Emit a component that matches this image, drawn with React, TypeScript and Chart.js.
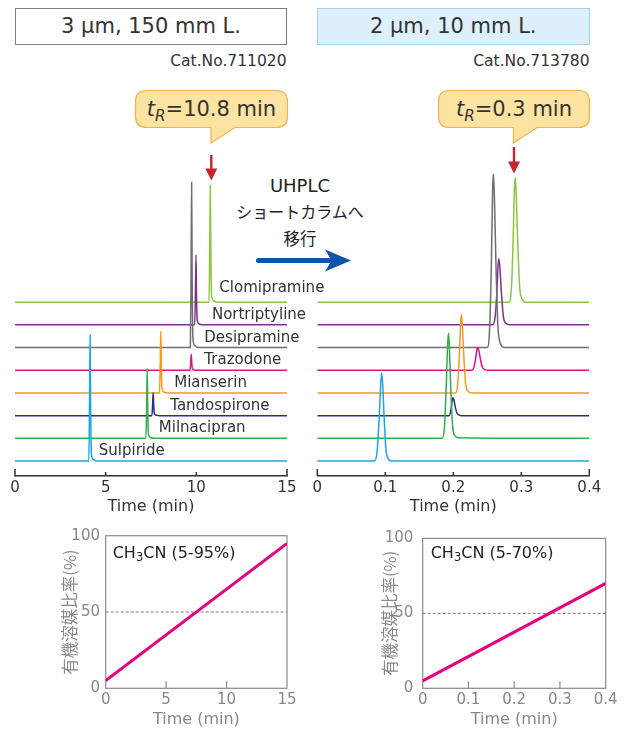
import React, { useEffect, useRef } from 'react';
import { Chart, registerables } from 'chart.js';

Chart.register(...registerables);

const LATIN = '"DejaVu Sans", "Noto Sans CJK JP", sans-serif';
const CJK = '"Noto Sans CJK JP", "DejaVu Sans", sans-serif';

// ---------------- data ----------------
// compounds, stacked from the bottom trace upwards
const compounds = [
  'Sulpiride',
  'Milnacipran',
  'Tandospirone',
  'Mianserin',
  'Trazodone',
  'Desipramine',
  'Nortriptyline',
  'Clomipramine',
];

const traceColors = [
  '#1ba6ea',
  '#2fb04a',
  '#2a2d8c',
  '#f7981f',
  '#ea0a8c',
  '#6e6e6e',
  '#7f318f',
  '#8cc63f',
];

// 3 um, 150 mm column: [time (min), signal]
const longColumnTraces: number[][][] = [
  [[0, 0], [4.07, 0], [4.11, 2.6], [4.14, 5.55], [4.17, 2.4], [4.21, 0.35], [4.3, 0.08], [4.5, 0], [15, 0]],
  [[0, 0], [7.22, 0], [7.26, 1.45], [7.29, 3.08], [7.32, 1.3], [7.36, 0.2], [7.45, 0.05], [7.65, 0], [15, 0]],
  [[0, 0], [7.55, 0], [7.59, 0.48], [7.62, 1.01], [7.65, 0.45], [7.69, 0.08], [7.8, 0.02], [7.95, 0], [15, 0]],
  [[0, 0], [7.97, 0], [8.01, 1.3], [8.04, 2.73], [8.07, 1.2], [8.11, 0.18], [8.2, 0.04], [8.4, 0], [15, 0]],
  [[0, 0], [9.65, 0], [9.69, 0.33], [9.72, 0.7], [9.75, 0.3], [9.79, 0.06], [9.9, 0.01], [10.05, 0], [15, 0]],
  [[0, 0], [9.67, 0], [9.71, 3.4], [9.74, 7.28], [9.77, 3.1], [9.81, 0.45], [9.9, 0.1], [10.1, 0], [15, 0]],
  [[0, 0], [9.91, 0], [9.95, 1.45], [9.98, 3.08], [10.01, 1.3], [10.05, 0.2], [10.14, 0.05], [10.35, 0], [15, 0]],
  [[0, 0], [10.7, 0], [10.74, 2.4], [10.77, 5.15], [10.8, 2.2], [10.84, 0.32], [10.93, 0.08], [11.15, 0], [15, 0]],
];

// 2 um, 10 mm column: [time (min), signal]
const shortColumnTraces: number[][][] = [
  [[0, 0], [0.084, 0], [0.088, 0.45], [0.091, 1.9], [0.0935, 3.5], [0.0947, 3.88], [0.096, 3.45], [0.0985, 1.8], [0.101, 0.5], [0.104, 0.12], [0.109, 0], [0.4, 0]],
  [[0, 0], [0.184, 0], [0.187, 0.5], [0.1895, 2.2], [0.1918, 4.2], [0.193, 4.63], [0.1942, 4.1], [0.1965, 2.0], [0.199, 0.55], [0.202, 0.12], [0.208, 0.03], [0.4, 0]],
  [[0, 0], [0.194, 0], [0.1965, 0.25], [0.1985, 0.7], [0.1996, 0.79], [0.201, 0.68], [0.2035, 0.3], [0.206, 0.08], [0.212, 0], [0.4, 0]],
  [[0, 0], [0.2035, 0], [0.2065, 0.4], [0.209, 1.7], [0.2108, 3.1], [0.212, 3.44], [0.2132, 3.05], [0.2155, 1.6], [0.218, 0.45], [0.221, 0.1], [0.227, 0], [0.4, 0]],
  [[0, 0], [0.227, 0], [0.2305, 0.15], [0.233, 0.55], [0.2348, 0.92], [0.236, 1.01], [0.2373, 0.9], [0.2398, 0.5], [0.2425, 0.15], [0.246, 0.03], [0.252, 0], [0.4, 0]],
  [[0, 0], [0.25, 0], [0.2535, 0.9], [0.256, 3.7], [0.2578, 6.9], [0.259, 7.65], [0.2603, 6.8], [0.2628, 3.6], [0.2655, 1.0], [0.269, 0.2], [0.275, 0], [0.4, 0]],
  [[0, 0], [0.258, 0], [0.2615, 0.35], [0.264, 1.4], [0.2658, 2.6], [0.267, 2.91], [0.2683, 2.6], [0.2708, 1.4], [0.2735, 0.4], [0.277, 0.08], [0.283, 0], [0.4, 0]],
  [[0, 0], [0.282, 0], [0.2855, 0.65], [0.288, 2.7], [0.2898, 4.95], [0.291, 5.49], [0.2923, 4.9], [0.2948, 2.6], [0.2975, 0.7], [0.301, 0.14], [0.307, 0], [0.4, 0]],
];

// label anchors on the long-column panel (time, lift above baseline)
const labelAnchorTime = [4.62, 7.93, 8.56, 8.78, 10.44, 10.44, 10.86, 11.27];
const labelLift = [0.42, 0.44, 0.44, 0.44, 0.44, 0.43, 0.44, 0.6];

const longTickValues = [0, 5, 10, 15];
const shortTickValues = [0, 0.1, 0.2, 0.3, 0.4];
const pctTickValues = [0, 50, 100];

const gradientLongTime = [0, 15];
const gradientLongPct = [5, 95];
const gradientShortTime = [0, 0.4];
const gradientShortPct = [5, 70];
const gradientRefPct = 50;

// ---------------- plugins ----------------
const innerTicks = {
  id: 'innerTicks',
  afterDatasetsDraw(chart: any, _a: any, opts: any) {
    const { ctx, chartArea } = chart;
    const xs = chart.scales.x;
    const n = xs.ticks.length;
    ctx.save();
    ctx.strokeStyle = opts.color;
    ctx.lineWidth = opts.width;
    xs.ticks.forEach((t: any, i: number) => {
      const len = i === 0 || i === n - 1 ? opts.endLen : opts.midLen;
      if (!len) return;
      const px = xs.getPixelForValue(t.value);
      ctx.beginPath();
      ctx.moveTo(px, chartArea.bottom);
      ctx.lineTo(px, chartArea.bottom - len);
      ctx.stroke();
    });
    ctx.restore();
  },
};

const traceLabels = {
  id: 'traceLabels',
  afterDatasetsDraw(chart: any) {
    const { ctx } = chart;
    const xs = chart.scales.x;
    const ys = chart.scales.y;
    ctx.save();
    ctx.font = `15px ${LATIN}`;
    ctx.fillStyle = '#333';
    ctx.textAlign = 'left';
    ctx.textBaseline = 'middle';
    compounds.forEach((name, i) => {
      ctx.fillText(name, xs.getPixelForValue(labelAnchorTime[i]), ys.getPixelForValue(i + labelLift[i]));
    });
    ctx.restore();
  },
};

const frame = {
  id: 'frame',
  beforeDatasetsDraw(chart: any) {
    const { ctx, chartArea: a } = chart;
    const ys = chart.scales.y;
    ctx.save();
    ctx.strokeStyle = '#8a8a8a';
    ctx.lineWidth = 1.2;
    ctx.strokeRect(a.left, a.top, a.right - a.left, a.bottom - a.top);
    const y = ys.getPixelForValue(gradientRefPct);
    ctx.setLineDash([3, 2]);
    ctx.lineWidth = 1;
    ctx.strokeStyle = '#777';
    ctx.beginPath();
    ctx.moveTo(a.left, y);
    ctx.lineTo(a.right, y);
    ctx.stroke();
    ctx.restore();
  },
};

// ---------------- configs ----------------
function chromConfig(traces: number[][][], xMax: number, tickValues: number[], padding: any, withLabels: boolean) {
  return {
    type: 'line',
    data: {
      datasets: traces.map((tr, i) => ({
        label: compounds[i],
        data: tr.map(([t, v]) => ({ x: t, y: i + v })),
        borderColor: traceColors[i],
        borderWidth: 1.5,
        pointRadius: 0,
        fill: false,
        cubicInterpolationMode: 'monotone',
      })),
    },
    options: {
      animation: false,
      responsive: false,
      layout: { padding },
      plugins: {
        legend: { display: false },
        tooltip: { enabled: false },
        innerTicks: { color: '#333', width: 1.5, endLen: 7, midLen: 4 },
      },
      scales: {
        x: {
          type: 'linear',
          min: 0,
          max: xMax,
          afterBuildTicks: (s: any) => {
            s.ticks = tickValues.map((v) => ({ value: v }));
          },
          ticks: { color: '#333', font: { family: LATIN, size: 15 }, padding: 3, maxRotation: 0, autoSkip: false },
          grid: { display: false, drawTicks: false, tickLength: 0 },
          border: { display: true, color: '#333', width: 1.5 },
          title: {
            display: true,
            text: 'Time (min)',
            color: '#333',
            font: { family: LATIN, size: 16 },
            padding: { top: 0, bottom: 8.4 },
          },
          afterFit: (s: any) => {
            s.height = 49;
          },
        },
        y: { type: 'linear', display: false, min: -0.66, max: 13 },
      },
    },
    plugins: withLabels ? [innerTicks, traceLabels] : [innerTicks],
  };
}

function gradientConfig(times: number[], pcts: number[], xMax: number, tickValues: number[], yWidth: number, tickPad: number, titlePad: number, padRight: number) {
  return {
    type: 'line',
    data: {
      datasets: [
        {
          label: 'CH3CN',
          data: times.map((t, i) => ({ x: t, y: pcts[i] })),
          borderColor: '#e4007f',
          borderWidth: 3,
          pointRadius: 0,
          fill: false,
        },
      ],
    },
    options: {
      animation: false,
      responsive: false,
      layout: { padding: { left: 0, right: padRight, top: 15.7, bottom: 0 } },
      plugins: {
        legend: { display: false },
        tooltip: { enabled: false },
        innerTicks: { color: '#8a8a8a', width: 1.2, endLen: 0, midLen: 7 },
      },
      scales: {
        x: {
          type: 'linear',
          min: 0,
          max: xMax,
          afterBuildTicks: (s: any) => {
            s.ticks = tickValues.map((v) => ({ value: v }));
          },
          ticks: { color: '#888', font: { family: LATIN, size: 15 }, padding: 3, maxRotation: 0, autoSkip: false },
          grid: { display: false, drawTicks: false, tickLength: 0 },
          border: { display: false },
          title: {
            display: true,
            text: 'Time (min)',
            color: '#888',
            font: { family: LATIN, size: 16 },
            padding: { top: 0, bottom: 0 },
          },
          afterFit: (s: any) => {
            s.height = 40.7;
          },
        },
        y: {
          type: 'linear',
          min: 0,
          max: 100,
          afterBuildTicks: (s: any) => {
            s.ticks = pctTickValues.map((v) => ({ value: v }));
          },
          ticks: { color: '#888', font: { family: LATIN, size: 15 }, padding: tickPad },
          grid: { display: false, drawTicks: false, tickLength: 0 },
          border: { display: false },
          title: {
            display: true,
            text: '有機溶媒比率(%)',
            color: '#888',
            font: { family: CJK, size: 16.5 },
            padding: { top: titlePad, bottom: 0 },
          },
          afterFit: (s: any) => {
            s.width = yWidth;
          },
        },
      },
    },
    plugins: [frame, innerTicks],
  };
}

// ---------------- components ----------------
function ChartBox({ left, top, width, height, build }: any) {
  const ref = useRef<HTMLCanvasElement | null>(null);
  useEffect(() => {
    const chart = new Chart(ref.current as HTMLCanvasElement, build());
    return () => chart.destroy();
  }, []);
  return (
    <canvas
      ref={ref}
      width={width}
      height={height}
      style={{ position: 'absolute', left, top, width, height }}
    />
  );
}

const abs = (s: any) => ({ position: 'absolute', whiteSpace: 'nowrap', ...s });

function Callout({ x0, x1, children }: any) {
  return (
    <div
      style={abs({
        left: x0,
        top: 90.5,
        width: x1 - x0,
        height: 37,
        display: 'flex',
        alignItems: 'center',
        justifyContent: 'center',
        fontFamily: LATIN,
        fontSize: 21,
        color: '#333',
      })}
    >
      {children}
    </div>
  );
}

function calloutPath(x0: number, x1: number, tailTip: number, tailRight: number) {
  const y0 = 90.5;
  const y1 = 127.5;
  const r = 11;
  return `M ${x0 + r} ${y0} H ${x1 - r} Q ${x1} ${y0} ${x1} ${y0 + r} V ${y1 - r} Q ${x1} ${y1} ${x1 - r} ${y1} H ${tailRight} L ${tailTip} 143 V ${y1} H ${x0 + r} Q ${x0} ${y1} ${x0} ${y1 - r} V ${y0 + r} Q ${x0} ${y0} ${x0 + r} ${y0} Z`;
}

const tR = (v: string) => (
  <span>
    <i>t</i>
    <i style={{ fontSize: '0.72em', position: 'relative', top: '0.32em' }}>R</i>
    {`=${v} min`}
  </span>
);

export default function App() {
  return (
    <div
      style={{
        position: 'absolute',
        left: 0,
        top: 0,
        width: 627,
        height: 729,
        background: '#fff',
        overflow: 'hidden',
        fontFamily: LATIN,
      }}
    >
      {/* header boxes */}
      <div
        style={abs({
          left: 15,
          top: 7.5,
          width: 272,
          height: 37.5,
          boxSizing: 'border-box',
          border: '1px solid #808080',
          display: 'flex',
          alignItems: 'center',
          justifyContent: 'center',
          fontSize: 21,
          color: '#333',
        })}
      >
        3 μm, 150 mm L.
      </div>
      <div
        style={abs({
          left: 317,
          top: 7.5,
          width: 272.5,
          height: 37.5,
          boxSizing: 'border-box',
          border: '1px solid #a6cff0',
          background: '#def0fb',
          display: 'flex',
          alignItems: 'center',
          justifyContent: 'center',
          fontSize: 21,
          color: '#333',
        })}
      >
        2 μm, 10 mm L.
      </div>
      <div style={abs({ right: 627 - 286.5, top: 51, fontSize: 15.5, lineHeight: '21px', color: '#333' })}>Cat.No.711020</div>
      <div style={abs({ right: 627 - 589.5, top: 51, fontSize: 15.5, lineHeight: '21px', color: '#333' })}>Cat.No.713780</div>

      {/* decorations */}
      <svg width={627} height={729} style={{ position: 'absolute', left: 0, top: 0 }}>
        <path d={calloutPath(135.5, 287.5, 211, 235)} fill="#fde3a2" stroke="#f4b24a" strokeWidth={1.2} />
        <path d={calloutPath(438.5, 589.5, 513.5, 537)} fill="#fde3a2" stroke="#f4b24a" strokeWidth={1.2} />
        <line x1={211.3} y1={155} x2={211.3} y2={170} stroke="#c4232f" strokeWidth={2.4} />
        <polygon points="205.3,168.5 217.3,168.5 211.3,180.5" fill="#c4232f" />
        <line x1={514} y1={147} x2={514} y2={163} stroke="#c4232f" strokeWidth={2.4} />
        <polygon points="508,161.5 520,161.5 514,173.5" fill="#c4232f" />
        <line x1={258.5} y1={260.5} x2={331} y2={260.5} stroke="#0b56a6" strokeWidth={5} strokeLinecap="round" />
        <polygon points="325,249.5 351,260.5 325,271.5 331.5,260.5" fill="#0b56a6" />
      </svg>
      <Callout x0={135.5} x1={287.5}>{tR('10.8')}</Callout>
      <Callout x0={438.5} x1={589.5}>{tR('0.3')}</Callout>

      <div style={abs({ left: 200, width: 200, top: 175, lineHeight: '22px', textAlign: 'center', fontSize: 18, color: '#222' })}>UHPLC</div>
      <div style={abs({ left: 200, width: 200, top: 200, lineHeight: '22px', textAlign: 'center', fontSize: 16, fontFamily: CJK, color: '#222' })}>ショートカラムへ</div>
      <div style={abs({ left: 200, width: 200, top: 227, lineHeight: '22px', textAlign: 'center', fontSize: 16.5, fontFamily: CJK, color: '#222' })}>移行</div>

      {/* chromatograms */}
      <ChartBox
        left={0}
        top={150}
        width={345}
        height={375}
        build={() => chromConfig(longColumnTraces, 15, longTickValues, { left: 15, right: 58, top: 16, bottom: 0 }, true)}
      />
      <ChartBox
        left={300}
        top={150}
        width={327}
        height={375}
        build={() => chromConfig(shortColumnTraces, 0.4, shortTickValues, { left: 17.3, right: 37.7, top: 16, bottom: 0 }, false)}
      />

      {/* gradient programs */}
      <ChartBox
        left={40}
        top={520}
        width={270}
        height={209}
        build={() => gradientConfig(gradientLongTime, gradientLongPct, 15, longTickValues, 65.7, 5.7, 20, 23)}
      />
      <ChartBox
        left={340}
        top={520}
        width={287}
        height={209}
        build={() => gradientConfig(gradientShortTime, gradientShortPct, 0.4, shortTickValues, 82.7, 9.4, 40, 21.3)}
      />
      <div style={abs({ left: 112.7, top: 542, lineHeight: '22px', fontSize: 16, color: '#222' })}>
        CH<span style={{ fontSize: '0.72em', position: 'relative', top: '0.3em' }}>3</span>CN (5-95%)
      </div>
      <div style={abs({ left: 430.7, top: 542, lineHeight: '22px', fontSize: 16, color: '#222' })}>
        CH<span style={{ fontSize: '0.72em', position: 'relative', top: '0.3em' }}>3</span>CN (5-70%)
      </div>
    </div>
  );
}
